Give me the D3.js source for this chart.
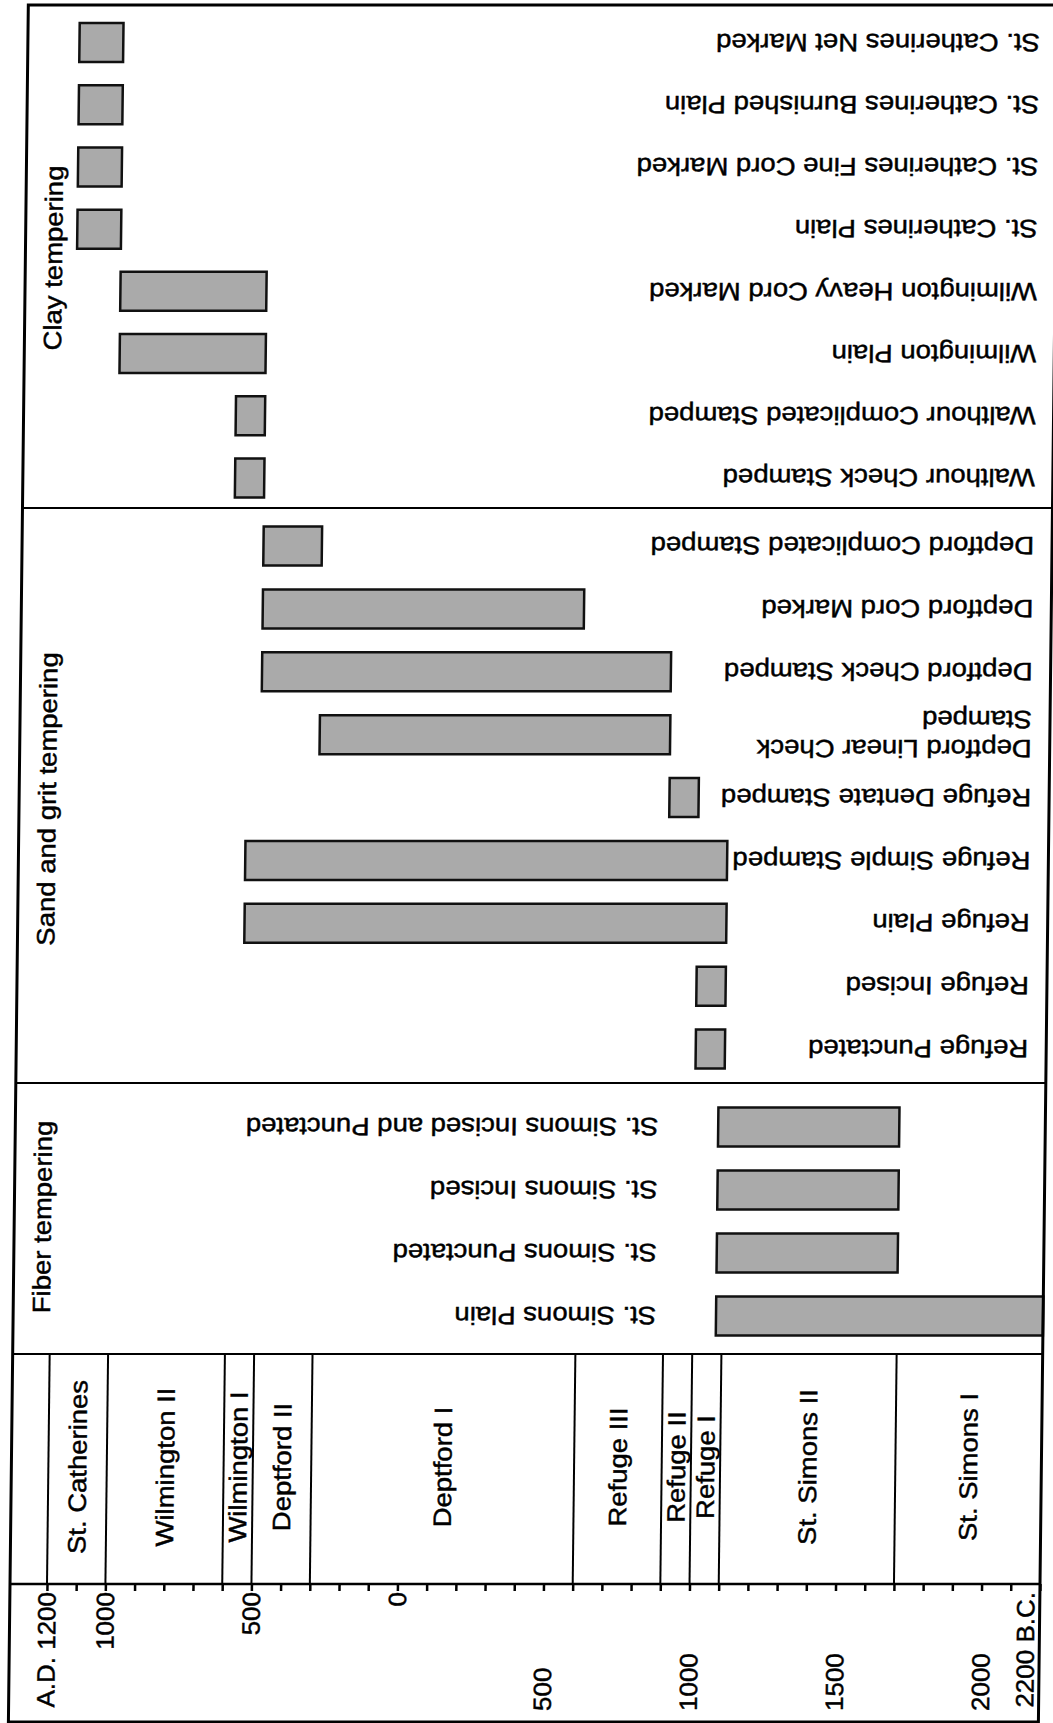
<!DOCTYPE html>
<html><head><meta charset="utf-8">
<script src="https://cdn.jsdelivr.net/npm/d3@7"></script>
<style>
body{margin:0;background:#fff}
text{font-family:"Liberation Sans",Arial,Helvetica,sans-serif;fill:#000;stroke:#000;stroke-width:0.45px}
</style>
</head><body>
<svg id="chart" width="1053" height="1723"></svg>
<script>
// Years: A.D. positive, B.C. negative
const clayTypes = ["St. Catherines Net Marked","St. Catherines Burnished Plain","St. Catherines Fine Cord Marked","St. Catherines Plain","Wilmington Heavy Cord Marked","Wilmington Plain","Walthour Complicated Stamped","Walthour Check Stamped"];
const clayStart = [1150,1150,1150,1150,1000,1000,600,600];
const clayEnd   = [1000,1000,1000,1000,500,500,500,500];

const sandTypes = ["Deptford Complicated Stamped","Deptford Cord Marked","Deptford Check Stamped","Deptford Linear Check\nStamped","Refuge Dentate Stamped","Refuge Simple Stamped","Refuge Plain","Refuge Incised","Refuge Punctated"];
const sandStart = [500,500,500,300,-900,550,550,-1000,-1000];
const sandEnd   = [300,-600,-900,-900,-1000,-1100,-1100,-1100,-1100];

const fiberTypes = ["St. Simons Incised and Punctated","St. Simons Incised","St. Simons Punctated","St. Simons Plain"];
const fiberStart = [-1080,-1080,-1080,-1080];
const fiberEnd   = [-1700,-1700,-1700,-2200];

const panelTitles = ["Clay tempering","Sand and grit tempering","Fiber tempering"];

const phaseNames  = ["St. Catherines","Wilmington II","Wilmington I","Deptford II","Deptford I","Refuge III","Refuge II","Refuge I","St. Simons II","St. Simons I"];
const phaseBounds = [1200,1000,600,500,300,-600,-900,-1000,-1100,-1700,-2200];

const tickYears  = d3.range(1200, -2201, -100);
const labelYears = [1200,1000,500,0,-500,-1000,-1500,-2000,-2200];
const labelText  = ["A.D. 1200","1000","500","0","500","1000","1500","2000","2200 B.C."];

// ---------- layout ----------
const svg = d3.select("#chart");
const axisY = 1584, shear = 0.0116;
const g = svg.append("g").attr("transform", `matrix(1,0,${-shear},1,${shear*axisY},0)`);

const x = d3.scaleLinear().domain([1200,-2200]).range([47,1040]);
const frameL = 10, frameR = x(-2200), frameT = 5, frameB = 1722;
const dividers = [508, 1083, 1354];
const phaseTop = 1354;
const barH = 39;

const panels = [
  {title: panelTitles[0], types: clayTypes, s: clayStart, e: clayEnd, y0: 42.5, y1: 478, titleY: 258, labelX: 1022},
  {title: panelTitles[1], types: sandTypes, s: sandStart, e: sandEnd, y0: 546, y1: 1049, titleY: 799, labelX: 1022},
  {title: panelTitles[2], types: fiberTypes, s: fiberStart, e: fiberEnd, y0: 1127, y1: 1316, titleY: 1217, labelX: 653}
];

panels.forEach(p => {
  const y = d3.scalePoint().domain(p.types).range([p.y0, p.y1]);
  const rows = p.types.map((t,i)=>({t, s:p.s[i], e:p.e[i]}));
  g.selectAll(null).data(rows).enter().append("rect")
    .attr("x", d => x(d.s))
    .attr("y", d => y(d.t) - barH/2)
    .attr("width", d => x(d.e) - x(d.s))
    .attr("height", barH)
    .attr("fill", "#aaaaaa")
    .attr("stroke", "#111").attr("stroke-width", 2.5);

  rows.forEach(d => {
    const lines = d.t.split("\n");
    const txt = g.append("text")
      .attr("transform", `translate(${p.labelX},${y(d.t)}) rotate(180) scale(1.1,1)`)
      .attr("font-size", 25).attr("text-anchor","start");
    const step = 29, off = (lines.length - 1) * step / 2;
    lines.forEach((ln, i) => {
      txt.append("tspan").attr("x",0).attr("y", -off + i*step).attr("dy","0.35em").text(ln);
    });
  });

  g.append("text")
    .attr("transform", `translate(38,${p.titleY}) rotate(-90) scale(1.1,1)`)
    .attr("font-size", 25).attr("text-anchor","middle").attr("dy","0.35em")
    .text(p.title);
});

// frame and dividers
g.append("rect").attr("x",frameL).attr("y",frameT).attr("width",frameR-frameL).attr("height",frameB-frameT)
  .attr("fill","none").attr("stroke","#000").attr("stroke-width",3);
dividers.forEach(dy => g.append("line").attr("x1",frameL).attr("x2",frameR).attr("y1",dy).attr("y2",dy)
  .attr("stroke","#000").attr("stroke-width",2));

// phase column lines
g.selectAll(null).data(phaseBounds.slice(0,-1)).enter().append("line")
  .attr("x1", d=>x(d)).attr("x2", d=>x(d)).attr("y1", phaseTop).attr("y2", axisY)
  .attr("stroke","#000").attr("stroke-width",2);

// phase names
phaseNames.forEach((n,i) => {
  const cx = (x(phaseBounds[i]) + x(phaseBounds[i+1]))/2;
  g.append("text")
    .attr("transform", `translate(${cx},1467) rotate(-90) scale(1.1,1)`)
    .attr("font-size", 25).attr("text-anchor","middle").attr("dy","0.35em")
    .text(n);
});

// time axis
g.append("line").attr("x1",frameL).attr("x2",frameR).attr("y1",axisY).attr("y2",axisY)
  .attr("stroke","#000").attr("stroke-width",2.5);
const axis = d3.axisBottom(x).tickValues(tickYears).tickSize(7).tickSizeOuter(0).tickFormat("");
const ag = g.append("g").attr("transform",`translate(0,${axisY})`).call(axis);
ag.select(".domain").remove();
ag.selectAll(".tick line").attr("stroke","#000").attr("stroke-width",2.5);

labelYears.forEach((yr,i) => {
  const isBC = yr < 0 && yr !== -2200;
  const px = yr === -2200 ? x(yr) - 14 : x(yr);
  g.append("text")
    .attr("transform", `translate(${px},${isBC ? 1711 : 1592}) rotate(-90) scale(1.04,1)`)
    .attr("font-size", 25).attr("text-anchor", isBC ? "start" : "end").attr("dy","0.35em")
    .text(labelText[i]);
});
</script>
</body></html>
